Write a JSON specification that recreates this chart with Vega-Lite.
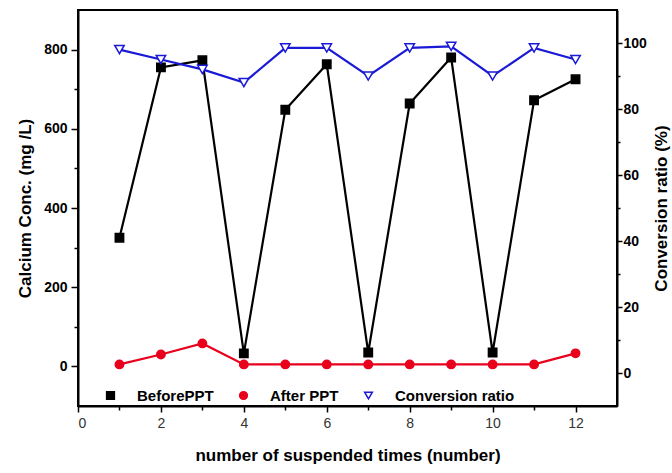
{
  "$schema": "https://vega.github.io/schema/vega-lite/v6.json",
  "width": 539,
  "height": 396,
  "autosize": {"type": "none"},
  "padding": {"left": 78, "top": 10, "right": 55, "bottom": 67},
  "background": "white",
  "config": {
    "view": {"stroke": "black", "strokeWidth": 2},
    "axis": {
      "domainColor": "black", "domainWidth": 2, "tickColor": "black", "tickWidth": 1.5,
      "labelFont": "Liberation Sans", "labelColor": "black", "labelFontSize": 14,
      "titleFont": "Liberation Sans", "titleFontSize": 17, "titleFontWeight": "bold", "titleColor": "black",
      "grid": false
    },
    "legend": {
      "orient": "none", "legendX": 25, "legendY": 378, "direction": "horizontal",
      "title": null, "padding": 0, "labelFont": "Liberation Sans", "labelFontSize": 15,
      "labelFontWeight": "bold", "labelColor": "black", "symbolSize": 60, "symbolStrokeWidth": 1.5,
      "labelOffset": 19, "columnPadding": 22, "gridAlign": "none"
    }
  },
  "data": {
    "values": [
      {"n": 1, "series": "BeforePPT", "value": 325},
      {"n": 2, "series": "BeforePPT", "value": 755},
      {"n": 3, "series": "BeforePPT", "value": 773},
      {"n": 4, "series": "BeforePPT", "value": 33},
      {"n": 5, "series": "BeforePPT", "value": 648},
      {"n": 6, "series": "BeforePPT", "value": 763},
      {"n": 7, "series": "BeforePPT", "value": 35},
      {"n": 8, "series": "BeforePPT", "value": 664},
      {"n": 9, "series": "BeforePPT", "value": 780},
      {"n": 10, "series": "BeforePPT", "value": 35},
      {"n": 11, "series": "BeforePPT", "value": 672},
      {"n": 12, "series": "BeforePPT", "value": 725},
      {"n": 1, "series": "After PPT", "value": 5},
      {"n": 2, "series": "After PPT", "value": 30},
      {"n": 3, "series": "After PPT", "value": 58},
      {"n": 4, "series": "After PPT", "value": 5},
      {"n": 5, "series": "After PPT", "value": 5},
      {"n": 6, "series": "After PPT", "value": 5},
      {"n": 7, "series": "After PPT", "value": 5},
      {"n": 8, "series": "After PPT", "value": 5},
      {"n": 9, "series": "After PPT", "value": 5},
      {"n": 10, "series": "After PPT", "value": 5},
      {"n": 11, "series": "After PPT", "value": 5},
      {"n": 12, "series": "After PPT", "value": 33},
      {"n": 1, "series": "Conversion ratio", "value": 98},
      {"n": 2, "series": "Conversion ratio", "value": 95},
      {"n": 3, "series": "Conversion ratio", "value": 92},
      {"n": 4, "series": "Conversion ratio", "value": 88},
      {"n": 5, "series": "Conversion ratio", "value": 98.5},
      {"n": 6, "series": "Conversion ratio", "value": 98.5},
      {"n": 7, "series": "Conversion ratio", "value": 90},
      {"n": 8, "series": "Conversion ratio", "value": 98.5},
      {"n": 9, "series": "Conversion ratio", "value": 99},
      {"n": 10, "series": "Conversion ratio", "value": 90},
      {"n": 11, "series": "Conversion ratio", "value": 98.5},
      {"n": 12, "series": "Conversion ratio", "value": 95}
    ]
  },
  "layer": [
    {
      "transform": [{"filter": "datum.series !== 'Conversion ratio'"}],
      "encoding": {
        "x": {
          "field": "n", "type": "quantitative",
          "scale": {"domain": [0, 13], "nice": false, "zero": false},
          "axis": {
            "orient": "bottom", "title": "number of suspended times (number)",
            "values": [0, 1, 2, 3, 4, 5, 6, 7, 8, 9, 10, 11, 12],
            "labelExpr": "datum.value % 2 === 0 ? datum.label : ''",
            "tickSize": {"condition": {"test": "datum.value % 2 === 0", "value": 6}, "value": 4},
            "labelPadding": 4, "titlePadding": 17, "labelColor": "#333333"
          }
        },
        "y": {
          "field": "value", "type": "quantitative",
          "scale": {"domain": [-100, 900], "nice": false, "zero": false},
          "axis": {
            "orient": "left", "title": "Calcium Conc. (mg /L)",
            "values": [0, 100, 200, 300, 400, 500, 600, 700, 800],
            "labelExpr": "datum.value % 200 === 0 ? datum.label : ''",
            "tickSize": {"condition": {"test": "datum.value % 200 === 0", "value": 7}, "value": 4},
            "labelFontWeight": "bold", "labelPadding": 4, "titlePadding": 9
          }
        }
      },
      "layer": [
        {
          "mark": {"type": "line", "strokeWidth": 2.2},
          "encoding": {
            "stroke": {
              "field": "series", "type": "nominal",
              "scale": {"domain": ["BeforePPT", "After PPT", "Conversion ratio"], "range": ["black", "#e8001c", "#1a1ad6"]}
            }
          }
        },
        {
          "mark": {"type": "point", "filled": false, "strokeWidth": 1.5, "opacity": 1},
          "encoding": {
            "stroke": {"field": "series", "type": "nominal"},
            "fill": {
              "field": "series", "type": "nominal",
              "scale": {"domain": ["BeforePPT", "After PPT", "Conversion ratio"], "range": ["black", "#e8001c", "white"]}
            },
            "shape": {
              "field": "series", "type": "nominal",
              "scale": {"domain": ["BeforePPT", "After PPT", "Conversion ratio"], "range": ["square", "circle", "triangle-down"]}
            },
            "size": {"value": 70}
          }
        }
      ]
    },
    {
      "transform": [{"filter": "datum.series === 'Conversion ratio'"}],
      "encoding": {
        "x": {
          "field": "n", "type": "quantitative",
          "scale": {"domain": [0, 13], "nice": false, "zero": false}
        },
        "y": {
          "field": "value", "type": "quantitative",
          "scale": {"domain": [-10, 110], "nice": false, "zero": false},
          "axis": {
            "orient": "right", "title": "Conversion ratio (%)", "titleAngle": 270, "titleBaseline": "top",
            "values": [0, 10, 20, 30, 40, 50, 60, 70, 80, 90, 100],
            "labelExpr": "datum.value % 20 === 0 ? datum.label : ''",
            "tickSize": {"condition": {"test": "datum.value % 20 === 0", "value": 5}, "value": 3},
            "labelFontWeight": "bold", "labelPadding": 1, "titlePadding": 7
          }
        }
      },
      "layer": [
        {
          "mark": {"type": "line", "strokeWidth": 2.2},
          "encoding": {"stroke": {"field": "series", "type": "nominal"}}
        },
        {
          "mark": {"type": "point", "filled": false, "strokeWidth": 1.5, "opacity": 1},
          "encoding": {
            "stroke": {"field": "series", "type": "nominal"},
            "fill": {"field": "series", "type": "nominal"},
            "shape": {"field": "series", "type": "nominal"},
            "size": {"value": 90}
          }
        }
      ]
    }
  ],
  "resolve": {"scale": {"y": "independent"}}
}
